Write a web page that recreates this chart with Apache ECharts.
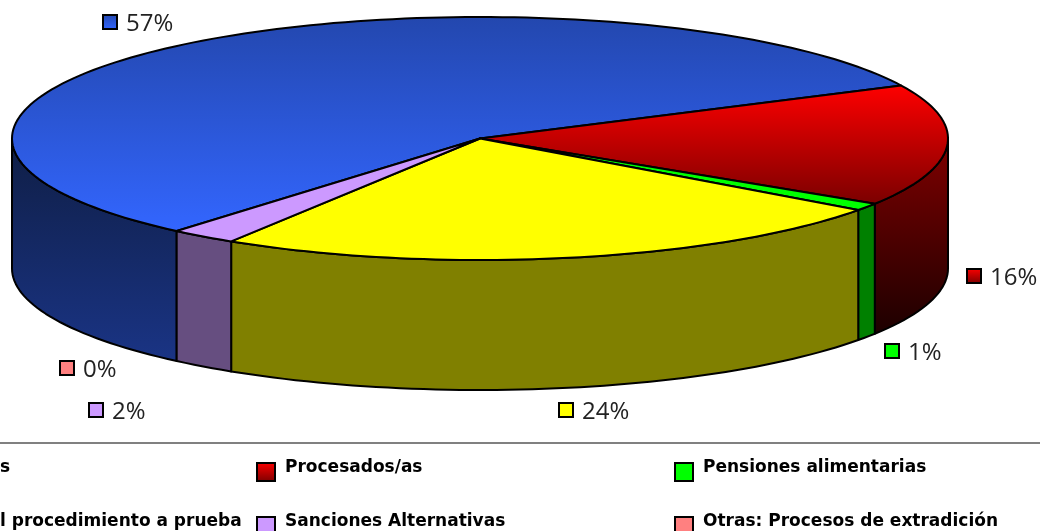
<!DOCTYPE html>
<html>
<head>
<meta charset="utf-8">
<style>
  html, body { margin: 0; padding: 0; background: #fff; overflow: hidden; }
  #chart { width: 1040px; height: 531px; }
</style>
<script src="https://cdn.jsdelivr.net/npm/echarts@6/dist/echarts.min.js"></script>
</head>
<body>
<div id="chart"></div>
<script>
// text as far as it can be seen, the first column is cut by the page edge
const legendNames = ['s', 'Procesados/as', 'Pensiones alimentarias', 'l procedimiento a prueba', 'Sanciones Alternativas', 'Otras: Procesos de extradición'];
const shareValues = [56.6, 16.2, 1.0, 23.9, 2.3, 0];
const shareLabels = ['57%', '16%', '1%', '24%', '2%', '0%'];

// [top from, top to, side from, side to]
const sliceColors = [
  ['#2347ae', '#3366ff', '#0f1e45', '#1a3485'],
  ['#ff0000', '#7a0000', '#800000', '#1c0000'],
  ['#00ff00', '#00ff00', '#008000', '#008000'],
  ['#ffff00', '#ffff00', '#808000', '#808000'],
  ['#cc99ff', '#cc99ff', '#664e80', '#664e80'],
  ['#ff8080', '#ff8080', '#804040', '#804040'],
];
const labelBoxes = [[103, 15], [967, 269], [885, 344], [559, 403], [89, 403], [60, 361]];
const legendBoxes = [[0, 463], [257, 463], [675, 463], [0, 517], [257, 517], [675, 517]];

const cx = 480, cy = 138.5, rx = 468, ry = 121.5, depth = 130;
const startAngle = 130.4;
const total = shareValues.reduce((a, b) => a + b, 0);

function rimPoint(deg, dy) {
  const t = deg * Math.PI / 180;
  return [cx + rx * Math.cos(t), cy + ry * Math.sin(t) + (dy || 0)];
}

function arcPoints(from, to, dy) {
  const pts = [];
  const n = Math.max(2, Math.ceil((to - from) / 1.5));
  for (let i = 0; i <= n; i++) {
    pts.push(rimPoint(from + (to - from) * i / n, dy));
  }
  return pts;
}

function vGrad(from, to) {
  return new echarts.graphic.LinearGradient(0, 0, 0, 1, [
    { offset: 0, color: from },
    { offset: 1, color: to },
  ]);
}

function renderSlice(params, api) {
  const idx = params.dataIndex;
  const value = api.value(0);
  let before = 0;
  for (let i = 0; i < idx; i++) before += shareValues[i];
  const a0 = startAngle + before / total * 360;
  const a1 = a0 + value / total * 360;
  const colors = sliceColors[idx];
  const lineStyle = { stroke: '#000', lineWidth: 2, lineJoin: 'round' };
  const children = [];
  if (value <= 0) return { type: 'group', children };

  // wall only where the rim faces the viewer
  [[a0, a1], [a0 - 360, a1 - 360]].forEach((r) => {
    const from = Math.max(r[0], 0);
    const to = Math.min(r[1], 180);
    if (to > from) {
      const pts = arcPoints(from, to, 0).concat(arcPoints(from, to, depth).reverse());
      children.push({
        type: 'polygon',
        z2: 1,
        shape: { points: pts },
        style: Object.assign({ fill: vGrad(colors[2], colors[3]) }, lineStyle),
      });
    }
  });
  children.push({
    type: 'polygon',
    z2: 2,
    shape: { points: [[cx, cy]].concat(arcPoints(a0, a1, 0)) },
    style: Object.assign({ fill: vGrad(colors[0], colors[1]) }, lineStyle),
  });
  return { type: 'group', children };
}

function swatch(x, y, size, colors, lw) {
  return {
    type: 'rect',
    shape: { x, y, width: size, height: size },
    style: { fill: vGrad(colors[0], colors[1]), stroke: '#000', lineWidth: lw },
  };
}

const graphics = [
  { type: 'rect', shape: { x: 0, y: 442, width: 1040, height: 2 }, style: { fill: '#808080' } },
];
shareLabels.forEach((label, i) => {
  const b = labelBoxes[i];
  graphics.push(swatch(b[0], b[1], 14, sliceColors[i], 2));
  graphics.push({
    type: 'text',
    x: b[0] + 23,
    y: b[1] + 9,
    style: { text: label, fill: '#222', font: '24px "Open Sans"', textVerticalAlign: 'middle' },
  });
});
legendNames.forEach((name, i) => {
  const b = legendBoxes[i];
  const first = i % 3 === 0;
  if (!first) graphics.push(swatch(b[0], b[1], 18, sliceColors[i], 2));
  graphics.push({
    type: 'text',
    x: first ? b[0] : b[0] + 28,
    y: b[1] + 5,
    style: { text: name, fill: '#000', font: 'bold 17px "DejaVu Sans"', textVerticalAlign: 'middle' },
  });
});

const chart = echarts.init(document.getElementById('chart'), null, { renderer: 'canvas' });
chart.setOption({
  animation: false,
  backgroundColor: '#fff',
  series: [
    {
      type: 'custom',
      coordinateSystem: 'none',
      silent: true,
      renderItem: renderSlice,
      data: shareValues,
    },
  ],
  graphic: { elements: graphics },
});
</script>
</body>
</html>
